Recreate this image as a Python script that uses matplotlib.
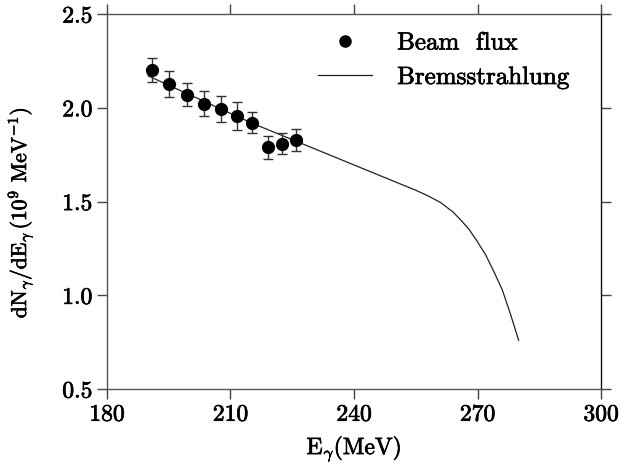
import matplotlib
matplotlib.use("Agg")
import matplotlib.pyplot as plt
from matplotlib import font_manager
from matplotlib.lines import Line2D
import matplotlib.patheffects as pe
import os

# Computer Modern roman shipped with matplotlib
cm_dir = os.path.join(matplotlib.get_data_path(), "fonts", "ttf")
font_manager.fontManager.addfont(os.path.join(cm_dir, "cmr10.ttf"))

plt.rcParams["font.family"] = "serif"
plt.rcParams["font.serif"] = ["cmr10"]
plt.rcParams["mathtext.fontset"] = "cm"
plt.rcParams["axes.unicode_minus"] = False

# Measured beam flux
energy = [190.9, 195.1, 199.5, 203.6, 207.6, 211.5, 215.3, 219.0, 222.5, 226.0]
flux = [2.20, 2.127, 2.07, 2.022, 1.993, 1.956, 1.919, 1.789, 1.808, 1.828]
flux_err = [0.064, 0.068, 0.06, 0.066, 0.07, 0.076, 0.056, 0.06, 0.055, 0.059]

# Bremsstrahlung spectrum
brems_e = [190, 195, 200, 205, 210, 215, 220, 225, 230, 235, 240, 245, 250,
           255, 258, 261, 264, 266, 268, 270, 272, 274, 276, 278, 280]
brems_y = [2.17, 2.12, 2.07, 2.02, 1.97, 1.92, 1.875, 1.83, 1.785, 1.74, 1.695,
           1.65, 1.605, 1.56, 1.53, 1.495, 1.445, 1.40, 1.35, 1.285, 1.215,
           1.125, 1.03, 0.90, 0.76]

xticks = [180, 210, 240, 270, 300]
yticks = [0.5, 1.0, 1.5, 2.0, 2.5]

heavy = [pe.withStroke(linewidth=0.5, foreground="black")]

fig = plt.figure(figsize=(6.21, 4.70), dpi=100)
ax = fig.add_axes([0.1723, 0.1723, 0.7955, 0.7979])

ax.plot(brems_e, brems_y, color="#222222", lw=0.9, zorder=2)
ax.errorbar(energy, flux, yerr=flux_err, fmt="o", color="black", ms=8.5,
            ecolor="#333333", elinewidth=1.0, capsize=3.6, capthick=1.0,
            zorder=3)

ax.set_xlim(180, 300)
ax.set_ylim(0.5, 2.5)
ax.set_xticks(xticks)
ax.set_yticks(yticks)
ax.set_xticklabels([str(t) for t in xticks])
ax.set_yticklabels([f"{t:.1f}" for t in yticks])

ax.tick_params(direction="out", length=7, width=1.0, color="#444444",
               labelsize=17, top=True, right=True, pad=3.5)
for lab in ax.get_xticklabels() + ax.get_yticklabels():
    lab.set_path_effects(heavy)
for s in ax.spines.values():
    s.set_color("#555555")
    s.set_linewidth(1.0)
ax.spines["right"].set_color("#111111")

xl = ax.set_xlabel(r"E$_\gamma$(MeV)", fontsize=17, labelpad=6)
yl = ax.set_ylabel(r"dN$_\gamma$/dE$_\gamma$$\,$(10$^9$ MeV$^{-1}$)", fontsize=15.5)
xl.set_path_effects(heavy)
yl.set_path_effects(heavy)
ax.yaxis.set_label_coords(-0.145, 0.47)

handles = [
    Line2D([], [], ls="none", marker="o", ms=8, color="black"),
    Line2D([], [], color="#222222", lw=0.9),
]
leg = ax.legend(handles, ["Beam  flux", "Bremsstrahlung"], frameon=False,
                fontsize=18, loc="upper left", bbox_to_anchor=(0.428, 0.952),
                borderaxespad=0, borderpad=0, handlelength=2.15,
                handletextpad=1.0, labelspacing=0.48)
for t in leg.get_texts():
    t.set_path_effects(heavy)

fig.savefig("out.png", dpi=100)
